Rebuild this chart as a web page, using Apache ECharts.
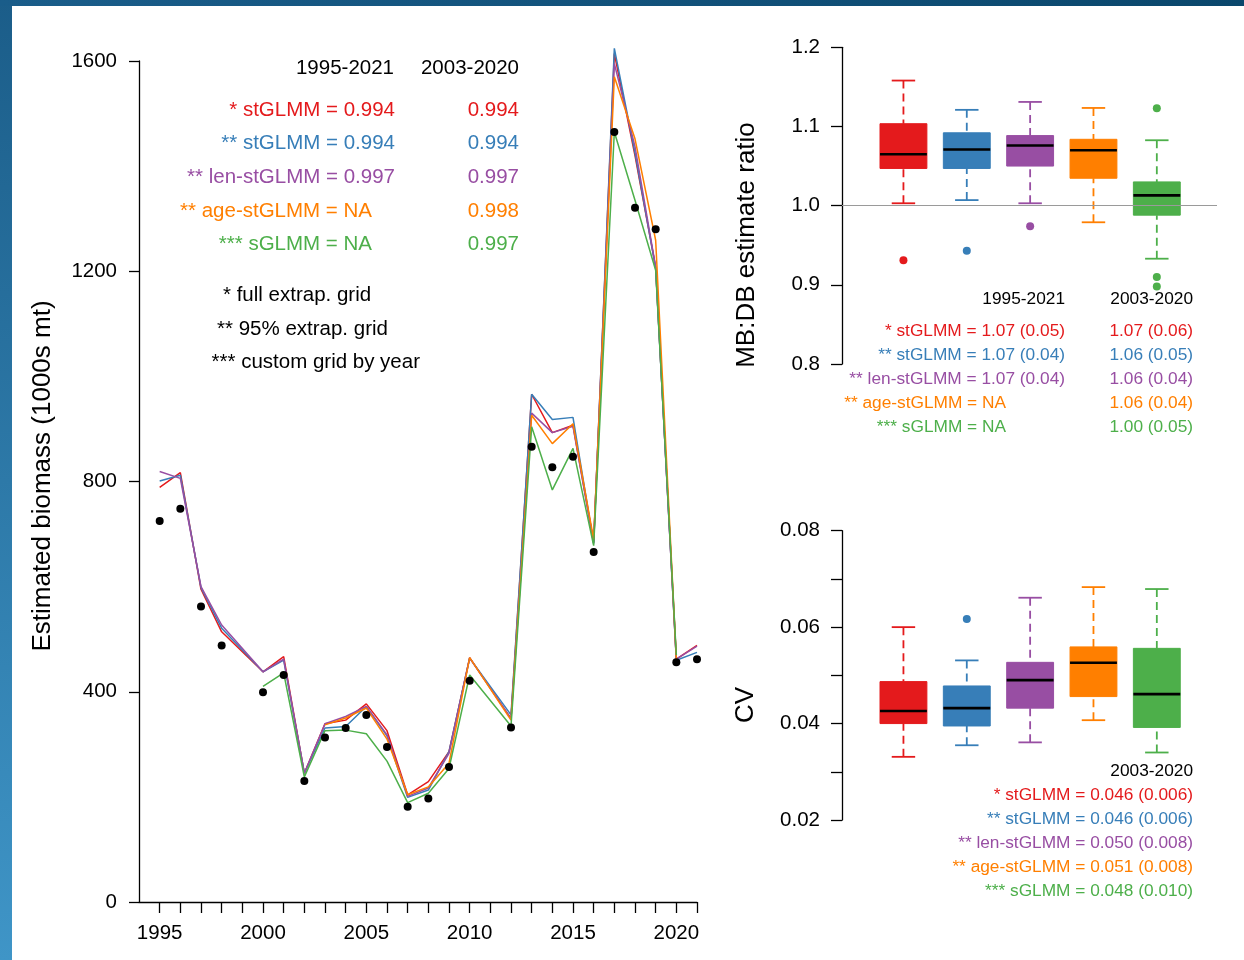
<!DOCTYPE html>
<html>
<head>
<meta charset="utf-8">
<script src="https://cdn.jsdelivr.net/npm/echarts@6/dist/echarts.min.js"></script>
<style>
    html, body { margin: 0; padding: 0; }
    body {
        width: 1244px; height: 960px; overflow: hidden; position: relative;
        background: linear-gradient(to bottom, #1b5d89, #3f95c7);
    }
    #topStrip {
        position: absolute; left: 0; top: 0; width: 1244px; height: 6px;
        background: linear-gradient(to right, #1a5d8a, #0a476c);
    }
    #panel { position: absolute; left: 12px; top: 6px; right: 0; bottom: 0; background: #fff; }
    #main { position: absolute; left: 0; top: 0; width: 1244px; height: 960px; }
</style>
</head>
<body>
<div id="topStrip"></div>
<div id="panel"></div>
<div id="main"></div>
<script>
// years and survey index (black dots)
const years = [1995, 1996, 1997, 1998, 1999, 2000, 2001, 2002, 2003, 2004, 2005, 2006, 2007, 2008,
    2009, 2010, 2011, 2012, 2013, 2014, 2015, 2016, 2017, 2018, 2019, 2020, 2021];
const labelYears = [1995, 2000, 2005, 2010, 2015, 2020];
const dbIndex = [725, 748, 562, 488, null, 399, 432, 230, 313, 331, 356, 295, 181, 197,
    257, 421, null, 332, 866, 827, 847, 666, 1465, 1321, 1280, 456, 462];

// model-based estimates
const stFull = [789, 817, 595, 514, null, 438, 467, 245, 339, 346, 377, 326, 204, 229,
    286, 465, null, 349, 966, 893, 907, 685, 1614, 1420, 1208, 462, 488];
const st95 = [801, 812, 598, 521, null, 438, 460, 245, 331, 334, 372, 316, 199, 213,
    286, 464, null, 356, 966, 918, 922, 682, 1624, 1425, 1206, 460, 475];
const lenSt = [819, 806, 600, 527, null, 438, 462, 245, 339, 353, 372, 318, 201, 217,
    283, 464, null, 349, 930, 893, 905, 683, 1595, 1437, 1208, 462, 487];
const ageSt = [null, null, null, null, null, null, null, null, 337, 350, 369, 310, 204, 219,
    264, 465, null, 346, 926, 872, 910, 690, 1570, 1452, 1259, 462, null];
const sGlmm = [null, null, null, null, null, 410, 436, 238, 326, 327, 320, 268, 189, 207,
    254, 432, null, 335, 904, 784, 863, 678, 1465, 1335, 1202, 470, null];

const bioTicks = [0, 400, 800, 1200, 1600];

// model labels
const modelNames = ['stGLMM', 'stGLMM', 'len-stGLMM', 'age-stGLMM', 'sGLMM'];
const modelStars = ['*', '**', '**', '**', '***'];
const modelColors = ['#E41A1C', '#377EB8', '#984EA3', '#FF7F00', '#4DAF4A'];
const corr9521 = ['0.994', '0.994', '0.997', 'NA', 'NA'];
const corr0320 = ['0.994', '0.994', '0.997', '0.998', '0.997'];
const gridNotes = ['* full extrap. grid', '** 95% extrap. grid', '*** custom grid by year'];

// ratio boxes: [min, q1, median, q3, max]
const ratioBoxes = [
    [1.003, 1.047, 1.065, 1.1035, 1.158],
    [1.007, 1.047, 1.071, 1.092, 1.121],
    [1.003, 1.050, 1.076, 1.0885, 1.131],
    [0.979, 1.0346, 1.070, 1.0838, 1.1234],
    [0.933, 0.988, 1.013, 1.030, 1.0826]
];
const ratioOutliers = [[0.931], [0.943], [0.974], [], [1.123, 0.910, 0.898]];
const ratioTicks = [0.8, 0.9, 1.0, 1.1, 1.2];
const ratio9521 = ['1.07 (0.05)', '1.07 (0.04)', '1.07 (0.04)', 'NA', 'NA'];
const ratio0320 = ['1.07 (0.06)', '1.06 (0.05)', '1.06 (0.04)', '1.06 (0.04)', '1.00 (0.05)'];

// CV boxes
const cvBoxes = [
    [0.0331, 0.0400, 0.0426, 0.0487, 0.0600],
    [0.0355, 0.0395, 0.0432, 0.0478, 0.0531],
    [0.0361, 0.0432, 0.0490, 0.0527, 0.0661],
    [0.0407, 0.0456, 0.0526, 0.0559, 0.0683],
    [0.0340, 0.0392, 0.0461, 0.0556, 0.0679]
];
const cvOutliers = [[], [0.0617], [], [], []];
const cvTicks = [0.02, 0.03, 0.04, 0.05, 0.06, 0.07, 0.08];
const cvLabelTicks = [0.02, 0.04, 0.06, 0.08];
const cv0320 = ['0.046 (0.006)', '0.046 (0.006)', '0.050 (0.008)', '0.051 (0.008)', '0.048 (0.010)'];

const FONT = '"Liberation Sans", Arial, Helvetica, sans-serif';

function pairs(vals) {
    var out = [];
    for (var i = 0; i < years.length; i++) {
        if (vals[i] !== null) out.push([years[i], vals[i]]);
    }
    return out;
}

function boxData(boxes) {
    return boxes.map(function (b, i) { return [i + 1].concat(b); });
}

function outlierData(outs) {
    var out = [];
    outs.forEach(function (arr, i) {
        arr.forEach(function (v) {
            out.push({ value: [i + 1, v], itemStyle: { color: modelColors[i], opacity: 1 } });
        });
    });
    return out;
}

function renderBox(params, api) {
    var x = api.value(0);
    var lo = api.coord([x, api.value(1)]);
    var q1 = api.coord([x, api.value(2)]);
    var med = api.coord([x, api.value(3)]);
    var q3 = api.coord([x, api.value(4)]);
    var hi = api.coord([x, api.value(5)]);
    var bw = api.size([0.74, 0])[0];
    var cw = api.size([0.37, 0])[0];
    var color = modelColors[params.dataIndex];
    var wStyle = { stroke: color, lineWidth: 1.8, lineDash: [8, 5] };
    var cStyle = { stroke: color, lineWidth: 1.8 };
    return {
        type: 'group',
        children: [
            { type: 'line', shape: { x1: hi[0], y1: hi[1], x2: q3[0], y2: q3[1] }, style: wStyle },
            { type: 'line', shape: { x1: lo[0], y1: lo[1], x2: q1[0], y2: q1[1] }, style: wStyle },
            { type: 'line', shape: { x1: hi[0] - cw / 2, y1: hi[1], x2: hi[0] + cw / 2, y2: hi[1] }, style: cStyle },
            { type: 'line', shape: { x1: lo[0] - cw / 2, y1: lo[1], x2: lo[0] + cw / 2, y2: lo[1] }, style: cStyle },
            { type: 'rect', shape: { x: q3[0] - bw / 2, y: q3[1], width: bw, height: q1[1] - q3[1] },
              style: { fill: color, stroke: color, lineWidth: 1 } },
            { type: 'line', shape: { x1: med[0] - bw / 2, y1: med[1], x2: med[0] + bw / 2, y2: med[1] },
              style: { stroke: '#000', lineWidth: 2.6 } }
        ]
    };
}

function txt(x, y, text, color, size, align) {
    return {
        type: 'text', x: x, y: y, silent: true,
        style: {
            text: text, fill: color, font: size + 'px ' + FONT,
            align: align, verticalAlign: 'middle', textAlign: align, textVerticalAlign: 'middle'
        }
    };
}

function vtxt(x, y, text) {
    var t = txt(x, y, text, '#000', 26, 'center');
    t.rotation = Math.PI / 2;
    return t;
}

var graphics = [];
// left panel annotations
graphics.push(txt(394, 68, '1995-2021', '#000', 20.5, 'right'));
graphics.push(txt(519, 68, '2003-2020', '#000', 20.5, 'right'));
var leftRows = [110, 143.7, 177.4, 211, 244.8];
for (var i = 0; i < 5; i++) {
    var c = modelColors[i];
    graphics.push(txt(corr9521[i] === 'NA' ? 372 : 395, leftRows[i],
        modelStars[i] + ' ' + modelNames[i] + ' = ' + corr9521[i], c, 20.5, 'right'));
    graphics.push(txt(519, leftRows[i], corr0320[i], c, 20.5, 'right'));
}
var noteX = [223, 217, 211.5];
var noteY = [295, 329, 362];
for (var k = 0; k < gridNotes.length; k++) {
    graphics.push(txt(noteX[k], noteY[k], gridNotes[k], '#000', 20.5, 'left'));
}
// ratio panel annotations
graphics.push(txt(1065, 299, '1995-2021', '#000', 17.3, 'right'));
graphics.push(txt(1193, 299, '2003-2020', '#000', 17.3, 'right'));
var ratioRows = [331, 355, 379, 403, 427];
for (var j = 0; j < 5; j++) {
    graphics.push(txt(ratio9521[j] === 'NA' ? 1006 : 1065, ratioRows[j],
        modelStars[j] + ' ' + modelNames[j] + ' = ' + ratio9521[j], modelColors[j], 17.3, 'right'));
    graphics.push(txt(1193, ratioRows[j], ratio0320[j], modelColors[j], 17.3, 'right'));
}
// CV panel annotations
graphics.push(txt(1193, 771, '2003-2020', '#000', 17.3, 'right'));
var cvRows = [795, 819, 843, 867.5, 891];
for (var m = 0; m < 5; m++) {
    graphics.push(txt(1193, cvRows[m],
        modelStars[m] + ' ' + modelNames[m] + ' = ' + cv0320[m], modelColors[m], 17.3, 'right'));
}
// axis titles
graphics.push(vtxt(43, 476, 'Estimated biomass (1000s mt)'));
graphics.push(vtxt(747, 245, 'MB:DB estimate ratio'));
graphics.push(vtxt(746, 705, 'CV'));

var axisLine = { show: true, onZero: false, lineStyle: { color: '#000', width: 1.3 } };
var tickStyle = { color: '#000', width: 1.3 };
var labelStyle = { color: '#000', fontSize: 20.5, fontFamily: FONT };
var plainNum = function (v) { return String(v); };

var lineSeries = [stFull, st95, lenSt, ageSt, sGlmm].map(function (vals, i) {
    return {
        type: 'line', xAxisIndex: 0, yAxisIndex: 0, data: pairs(vals),
        symbol: 'none', clip: false, z: 2,
        lineStyle: { color: modelColors[i], width: 1.5 }
    };
});

var chart = echarts.init(document.getElementById('main'), null, { renderer: 'canvas' });
var option = {
    animation: false,
    backgroundColor: 'transparent',
    grid: [
        { left: 139, top: 61, width: 558, height: 841 },
        { left: 842, top: 47.3, width: 375, height: 316.7 },
        { left: 842, top: 530.7, width: 375, height: 289.3 }
    ],
    xAxis: [
        {
            gridIndex: 0, type: 'value', min: 1994, max: 2021,
            axisLine: axisLine,
            axisTick: { show: true, length: 11, customValues: years, lineStyle: tickStyle },
            axisLabel: Object.assign({ customValues: labelYears, margin: 21, formatter: plainNum }, labelStyle),
            splitLine: { show: false }
        },
        { gridIndex: 1, type: 'value', min: 0.03, max: 5.95, show: false },
        { gridIndex: 2, type: 'value', min: 0.03, max: 5.95, show: false }
    ],
    yAxis: [
        {
            gridIndex: 0, type: 'value', min: 0, max: 1600,
            axisLine: axisLine,
            axisTick: { show: true, length: 10, customValues: bioTicks, lineStyle: tickStyle },
            axisLabel: Object.assign({ customValues: bioTicks, margin: 22, formatter: plainNum }, labelStyle),
            splitLine: { show: false }
        },
        {
            gridIndex: 1, type: 'value', min: 0.8, max: 1.2,
            axisLine: axisLine,
            axisTick: { show: true, length: 11, customValues: ratioTicks, lineStyle: tickStyle },
            axisLabel: Object.assign({
                customValues: ratioTicks, margin: 22,
                formatter: function (v) { return v.toFixed(1); }
            }, labelStyle),
            splitLine: { show: false }
        },
        {
            gridIndex: 2, type: 'value', min: 0.02, max: 0.08,
            axisLine: axisLine,
            axisTick: { show: true, length: 11, customValues: cvTicks, lineStyle: tickStyle },
            axisLabel: Object.assign({
                customValues: cvLabelTicks, margin: 22,
                formatter: function (v) { return v.toFixed(2); }
            }, labelStyle),
            splitLine: { show: false }
        }
    ],
    graphic: { elements: graphics },
    series: lineSeries.concat([
        {
            type: 'scatter', xAxisIndex: 0, yAxisIndex: 0, data: pairs(dbIndex),
            symbolSize: 8, itemStyle: { color: '#000', opacity: 1 }, z: 5, clip: false
        },
        {
            type: 'scatter', xAxisIndex: 1, yAxisIndex: 1, data: outlierData(ratioOutliers),
            symbolSize: 8, z: 1,
            markLine: {
                silent: true, symbol: 'none', label: { show: false },
                lineStyle: { color: '#9a9a9a', width: 1.2, type: 'solid' },
                data: [{ yAxis: 1.0 }]
            }
        },
        {
            type: 'custom', xAxisIndex: 1, yAxisIndex: 1, data: boxData(ratioBoxes),
            renderItem: renderBox, encode: { x: 0, y: [1, 2, 3, 4, 5] }, z: 3
        },
        {
            type: 'scatter', xAxisIndex: 2, yAxisIndex: 2, data: outlierData(cvOutliers),
            symbolSize: 8, z: 1
        },
        {
            type: 'custom', xAxisIndex: 2, yAxisIndex: 2, data: boxData(cvBoxes),
            renderItem: renderBox, encode: { x: 0, y: [1, 2, 3, 4, 5] }, z: 3
        }
    ])
};
chart.setOption(option);
</script>
</body>
</html>
